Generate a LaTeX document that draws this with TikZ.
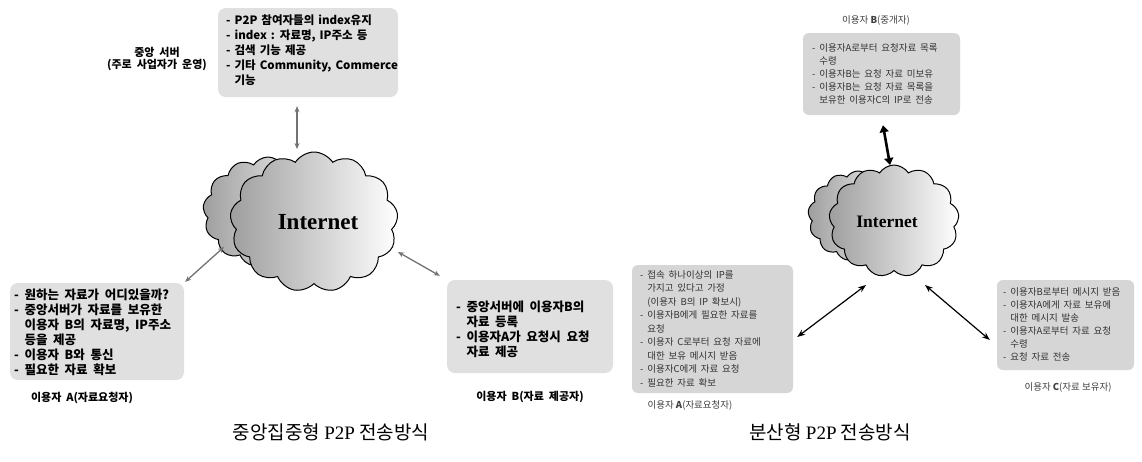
\documentclass[tikz,border=0pt]{standalone}
\usepackage{fontspec}
\setmainfont{Liberation Serif}
\newfontfamily\kr{Noto Sans CJK KR}
\usetikzlibrary{shapes.symbols,arrows.meta}
\newcommand\ind{\phantom{- }}
\newcommand\wsp[1]{\spaceskip=#1\relax}
\tikzset{
  cloudbg/.style={cloud, cloud puffs=13, cloud puff arc=115, aspect=1.4, draw=black, line width=1pt,
                  left color=black!38, right color=white, inner sep=0pt},
  netlabel/.style={font=\rmfamily\bfseries},
  lbox/.style={fill=black!12, rounded corners=8pt, draw=none, inner sep=0pt},
  ltext/.style={anchor=north west, align=left, inner sep=0pt, font=\kr\bfseries\fontsize{12.5}{15}\selectfont\wsp{.45em}},
  llabel/.style={align=center, inner sep=0pt, font=\kr\bfseries\fontsize{11}{11.5}\selectfont\wsp{.45em}},
  rbox/.style={fill=black!16, rounded corners=6pt, draw=none, inner sep=0pt},
  rtext/.style={anchor=north west, align=left, inner sep=0pt, text=black!80, font=\kr\fontsize{9.5}{13}\selectfont\wsp{.4em}},
  rlabel/.style={inner sep=0pt, text=black!75, font=\kr\fontsize{9.5}{11}\selectfont},
  garrow/.style={draw=black!55, line width=1.3pt, {Stealth[length=6pt,width=5pt]}-{Stealth[length=6pt,width=5pt]}},
  barrow/.style={draw=black, line width=1.2pt, {Stealth[length=8pt,width=6pt]}-{Stealth[length=8pt,width=6pt]}},
  tarrow/.style={draw=black, line width=2.6pt, {Triangle[length=7pt,width=9pt]}-{Triangle[length=7pt,width=9pt]}},
  caption/.style={inner sep=0pt, font=\kr\fontsize{19}{21}\selectfont}
}
\begin{document}
\begin{tikzpicture}[x=1pt,y=-1pt]
\useasboundingbox[fill=white] (0,0) rectangle (1142,461);

% ---------------- left diagram ----------------
\node[llabel] (srvlabel) at (157,59) {중앙 서버\\(주로 사업자가 운영)};
\node[lbox, minimum width=180pt, minimum height=89pt] (srvbox) at (308,52.5) {};
\node[ltext, font=\kr\bfseries\fontsize{11.5}{15}\selectfont\wsp{.35em}] (srvtext) at (226,15) {- P2P 참여자들의 index유지\\- index : 자료명, IP주소 등\\- 검색 기능 제공\\- 기타 Community, Commerce\\\ind 기능};

\node[cloudbg, minimum width=130pt, minimum height=110pt] (cloudLb) at (268,212) {};
\node[cloudbg, minimum width=168pt, minimum height=140pt] (cloudL) at (314,222) {};
\node[netlabel, font=\rmfamily\bfseries\fontsize{23}{25}\selectfont] (netL) at (318,222) {Internet};

\node[lbox, minimum width=174pt, minimum height=97pt] (boxA) at (97,331.5) {};
\node[ltext] (textA) at (14,289) {- 원하는 자료가 어디있을까?\\- 중앙서버가 자료를 보유한\\\ind 이용자 B의 자료명, IP주소\\\ind 등을 제공\\- 이용자 B와 통신\\- 필요한 자료 확보};
\node[llabel] (labA) at (82,398) {이용자 A(자료요청자)};

\node[lbox, minimum width=166pt, minimum height=93pt] (boxB) at (530,326.5) {};
\node[ltext] (textB) at (456,301) {- 중앙서버에 이용자B의\\\ind 자료 등록\\- 이용자A가 요청시 요청\\\ind 자료 제공};
\node[llabel] (labB) at (530,397) {이용자 B(자료 제공자)};

\draw[garrow] ([shift={(-11,9)}]srvbox.south) -- ([shift={(-17,-73)}]cloudL.center);
\draw[garrow] ([shift={(1,-1)}]boxA.north east) -- ([shift={(-90,25)}]cloudL.center);
\draw[garrow] ([shift={(84,30)}]cloudL.center) -- ([shift={(-7,-4)}]boxB.north west);

\node[caption] (capL) at (331,432) {중앙집중형 {\rmfamily P2P} 전송방식};

% ---------------- right diagram ----------------
\node[rlabel] (labRB) at (876,21) {이용자 \textbf{B}(중개자)};
\node[rbox, minimum width=157pt, minimum height=82pt] (rbBox) at (881.5,74) {};
\node[rtext] (rbText) at (812,43) {- 이용자A로부터 요청자료 목록\\\ind 수령\\- 이용자B는 요청 자료 미보유\\- 이용자B는 요청 자료 목록을\\\ind 보유한 이용자C의 IP로 전송};

\node[cloudbg, minimum width=100pt, minimum height=90pt] (cloudRb) at (858,216) {};
\node[cloudbg, minimum width=130pt, minimum height=112pt] (cloudR) at (894,221) {};
\node[netlabel, font=\rmfamily\bfseries\fontsize{17.5}{19}\selectfont] (netR) at (887,222) {Internet};

\node[rbox, minimum width=161pt, minimum height=128pt] (rA) at (712.5,329) {};
\node[rtext, font=\kr\fontsize{9.5}{13.5}\selectfont\wsp{.4em}] (rAText) at (640,270) {- 접속 하나이상의 IP를\\\ind 가지고 있다고 가정\\\ind (이용자 B의 IP 확보시)\\- 이용자B에게 필요한 자료를\\\ind 요청\\- 이용자 C로부터 요청 자료에\\\ind 대한 보유 메시지 받음\\- 이용자C에게 자료 요청\\- 필요한 자료 확보};
\node[rlabel] (labRA) at (690,405) {이용자 \textbf{A}(자료요청자)};

\node[rbox, minimum width=137pt, minimum height=90pt] (rC) at (1065.5,325) {};
\node[rtext] (rCText) at (1003,287) {- 이용자B로부터 메시지 받음\\- 이용자A에게 자료 보유에\\\ind 대한 메시지 발송\\- 이용자A로부터 자료 요청\\\ind 수령\\- 요청 자료 전송};
\node[rlabel] (labRC) at (1068,387) {이용자 \textbf{C}(자료 보유자)};

\draw[tarrow] ([shift={(1.5,10)}]rbBox.south) -- ([shift={(-4,-56)}]cloudR.center);
\draw[barrow] ([shift={(-28,64)}]cloudR.center) -- ([shift={(4,8)}]rA.east);
\draw[barrow] ([shift={(31,64)}]cloudR.center) -- ([shift={(-7,15)}]rC.west);

\node[caption] (capR) at (830,432) {분산형 {\rmfamily P2P} 전송방식};
\end{tikzpicture}
\end{document}
